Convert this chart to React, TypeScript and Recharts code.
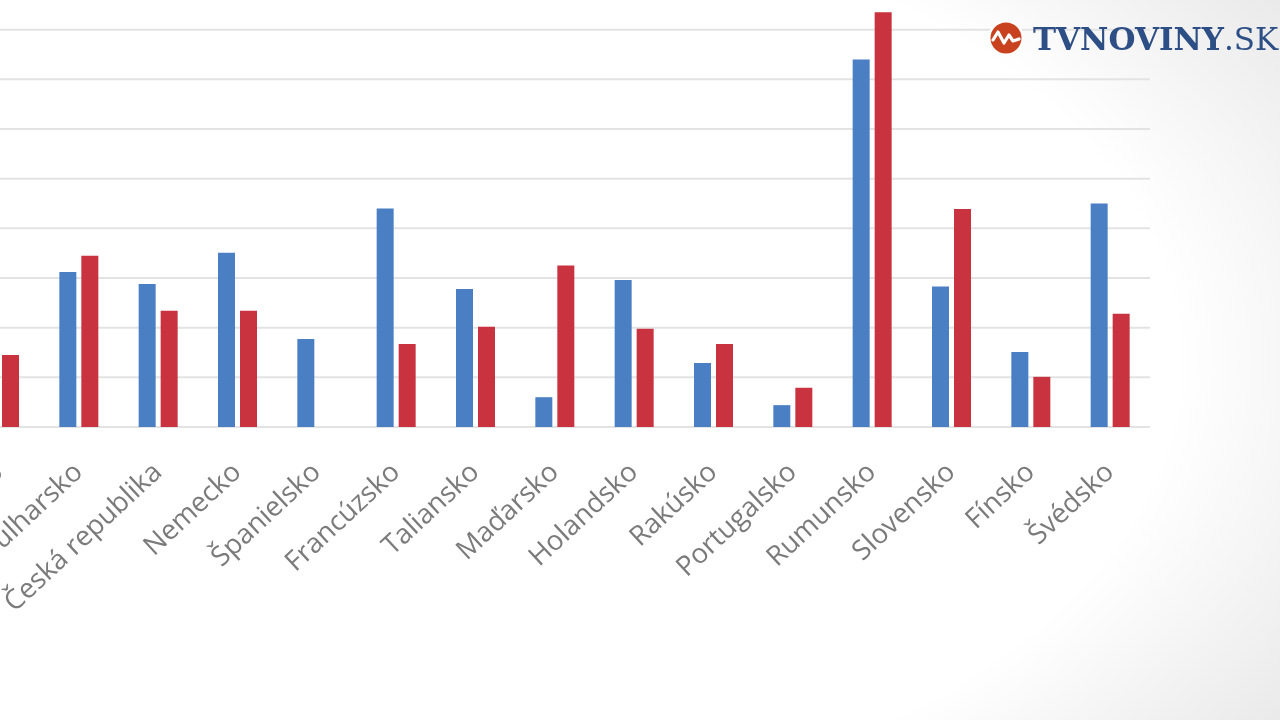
import React from 'react';
import { BarChart, Bar, XAxis, YAxis, CartesianGrid } from 'recharts';

const countries = [
  'Belgicko',
  'Bulharsko',
  'Česká republika',
  'Nemecko',
  'Španielsko',
  'Francúzsko',
  'Taliansko',
  'Maďarsko',
  'Holandsko',
  'Rakúsko',
  'Portugalsko',
  'Rumunsko',
  'Slovensko',
  'Fínsko',
  'Švédsko',
];

const blueValues = [2.0, 3.12, 2.88, 3.51, 1.77, 4.4, 2.78, 0.6, 2.96, 1.29, 0.44, 7.4, 2.83, 1.51, 4.5];
const redValues = [1.45, 3.45, 2.34, 2.34, 0, 1.67, 2.02, 3.25, 1.98, 1.67, 0.79, 8.35, 4.39, 1.01, 2.28];

const yTicks = [0, 1, 2, 3, 4, 5, 6, 7, 8, 9];

const data = countries.map((name, i) => ({
  name,
  blue: blueValues[i],
  red: redValues[i],
}));

const AngledTick = (props: any) => {
  const { x, y, payload } = props;
  return (
    <g transform={`translate(${x + 5},${y + 47})`}>
      <text
        x={0}
        y={0}
        textAnchor="end"
        transform="rotate(-43)"
        fill="#7b7b7b"
        fontSize={27.5}
        fontFamily="'Open Sans', sans-serif"
      >
        {payload.value}
      </text>
    </g>
  );
};

const Logo = () => (
  <div
    style={{
      position: 'absolute',
      left: 984,
      top: 17,
      display: 'flex',
      alignItems: 'center',
    }}
  >
    <svg width={46} height={44} viewBox="0 0 46 44">
      <path d="M10 34 L3 40 L15 37 Z" fill="#ffffff" />
      <circle cx={22} cy={21} r={18} fill="#ffffff" />
      <circle cx={22} cy={21} r={15.5} fill="#c9421f" />
      <polyline
        points="9,23 14,15 20,26 25,18 29,24 35,22"
        fill="none"
        stroke="#ffffff"
        strokeWidth={3.2}
        strokeLinejoin="round"
        strokeLinecap="round"
      />
    </svg>
    <span
      style={{
        fontFamily: "'DejaVu Serif', serif",
        fontWeight: 'bold',
        fontSize: 31,
        color: '#2d4f85',
        marginLeft: 3,
      }}
    >
      TVNOVINY
      <span style={{ fontWeight: 'normal' }}>.SK</span>
    </span>
  </div>
);

const App: React.FC = () => {
  return (
    <div
      style={{
        position: 'fixed',
        left: 0,
        top: 0,
        width: 1280,
        height: 720,
        overflow: 'hidden',
        background:
          'radial-gradient(ellipse 75% 80% at 32% 50%, #ffffff 80%, #f2f2f2 98%, #e3e3e3 120%)',
      }}
    >
      <div style={{ position: 'absolute', left: -40, top: -20 }}>
        <BarChart
          width={1190}
          height={647}
          data={data}
          margin={{ top: 0, right: 0, bottom: 0, left: 0 }}
          barSize={17}
          barGap={5}
        >
          <CartesianGrid vertical={false} stroke="#e3e3e3" strokeWidth={2} />
          <YAxis hide domain={[0, 9]} ticks={yTicks} />
          <XAxis
            dataKey="name"
            height={200}
            axisLine={false}
            tickLine={false}
            tickSize={0}
            tickMargin={0}
            interval={0}
            tick={<AngledTick />}
          />
          <Bar dataKey="blue" fill="#4a7fc4" isAnimationActive={false} />
          <Bar dataKey="red" fill="#c9323f" isAnimationActive={false} />
        </BarChart>
      </div>
      <Logo />
    </div>
  );
};

export default App;
